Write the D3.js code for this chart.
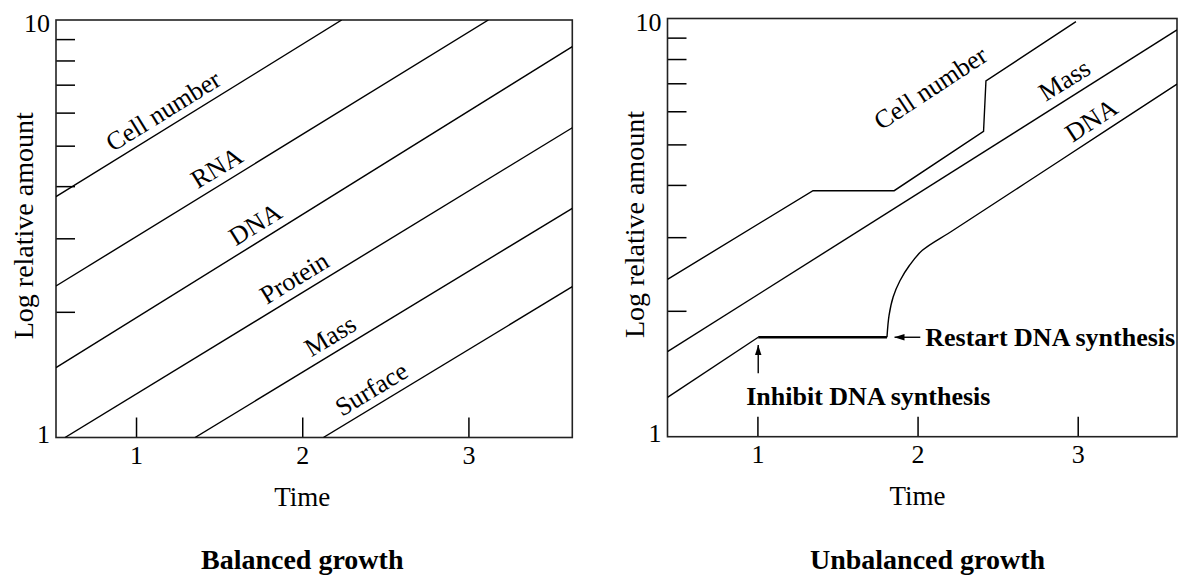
<!DOCTYPE html>
<html>
<head>
<meta charset="utf-8">
<script src="https://cdnjs.cloudflare.com/ajax/libs/d3/7.8.5/d3.min.js"></script>
<style>
  html, body { margin: 0; padding: 0; background: #fff; }
  svg { display: block; }
  text { font-family: "Liberation Serif", "Times New Roman", serif; fill: #000; }
</style>
</head>
<body>
<svg id="chart" width="1184" height="576"></svg>
<script>
// ---- axis ticks shared by both panels ----
const timeTicks = [1, 2, 3];
const minorAmountTicks = [2, 3, 4, 5, 6, 7, 8, 9];
const amountLabels = [1, 10];

// ---- balanced growth: [time, relative amount] ----
const balancedCellNumber = [[0.5185, 3.775], [2.2375, 10]];
const balancedRNA        = [[0.5185, 2.306], [3.12, 10]];
const balancedDNA        = [[0.5185, 1.470], [3.625, 8.63]];
const balancedProtein    = [[0.5726, 1], [3.625, 5.52]];
const balancedMass       = [[1.355, 1], [3.625, 3.54]];
const balancedSurface    = [[2.127, 1], [3.625, 2.297]];

const balancedNames  = ["Cell number", "RNA", "DNA", "Protein", "Mass", "Surface"];
const balancedLabelT = [1.216, 1.538, 1.770, 2.005, 2.221, 2.468];

// ---- unbalanced growth: [time, relative amount] ----
const unbalancedCellNumber = [[0.4385, 2.378], [1.347, 3.875], [1.854, 3.875],
                              [2.412, 5.375], [2.427, 7.09], [2.989, 9.825]];
const unbalancedMass       = [[0.4385, 1.597], [3.62, 9.39]];
const dnaBeforeBlock       = [[0.4385, 1.242], [1.005, 1.729]];
const dnaBlocked           = [[1.005, 1.729], [1.809, 1.729]];
const dnaRecovery          = [[1.809, 1.729], [1.822, 1.95], [1.848, 2.16], [1.890, 2.36],
                              [1.950, 2.57], [2.030, 2.79], [2.225, 3.121], [2.9, 4.60], [3.62, 6.97]];

const unbalancedNames  = ["Cell number", "Mass", "DNA"];
const unbalancedLabelT = [2.165, 2.976, 3.142];

// arrows: inhibit (vertical, at time of block) and restart (horizontal)
const inhibitArrow = [[1.005, 1.418], [1.005, 1.657]];
const restartArrow = [[2.017, 1.729], [1.856, 1.729]];

const svg = d3.select("#chart");
const FONT = '"Liberation Serif", "Times New Roman", serif';

svg.append("defs").append("marker")
  .attr("id", "head")
  .attr("viewBox", "0 -4 10 8")
  .attr("refX", 10).attr("refY", 0)
  .attr("markerUnits", "userSpaceOnUse")
  .attr("markerWidth", 10).attr("markerHeight", 8)
  .attr("orient", "auto")
  .append("path").attr("d", "M0,-3.2L10,0L0,3.2Z").attr("fill", "#000");

function makePanel(cfg) {
  const g = svg.append("g");
  const x = d3.scaleLinear().domain(cfg.timeDomain).range([cfg.left, cfg.right]);
  const y = d3.scaleLog().domain([1, 10]).range([cfg.bottom, cfg.top]);

  const clipId = "clip-" + cfg.id;
  svg.select("defs").append("clipPath").attr("id", clipId)
    .append("rect")
    .attr("x", cfg.left).attr("y", cfg.top)
    .attr("width", cfg.right - cfg.left).attr("height", cfg.bottom - cfg.top);

  // inner minor ticks on the log axis
  g.append("g")
    .attr("transform", `translate(${cfg.left},0)`)
    .call(d3.axisLeft(y).tickValues(minorAmountTicks).tickSizeInner(-19).tickSizeOuter(0).tickFormat(""))
    .call(a => a.select(".domain").remove())
    .call(a => a.selectAll("line").attr("stroke", "#000").attr("stroke-width", 1.5));

  // labelled ends of the log axis
  g.append("g")
    .attr("transform", `translate(${cfg.left},0)`)
    .call(d3.axisLeft(y).tickValues(amountLabels).tickSize(0).tickPadding(6).tickFormat(d3.format("d")))
    .call(a => a.select(".domain").remove())
    .call(a => a.attr("font-family", FONT).attr("font-size", 26))
    .call(a => a.selectAll("text").attr("dy", d => d === 10 ? "0.45em" : "0.18em"));

  // time axis
  g.append("g")
    .attr("transform", `translate(0,${cfg.bottom})`)
    .call(d3.axisBottom(x).tickValues(timeTicks).tickSizeInner(-20).tickSizeOuter(0).tickPadding(8).tickFormat(d3.format("d")))
    .call(a => a.select(".domain").remove())
    .call(a => a.attr("font-family", FONT).attr("font-size", 26))
    .call(a => a.selectAll("line").attr("stroke", "#000").attr("stroke-width", 1.5));

  // frame
  g.append("rect")
    .attr("x", cfg.left).attr("y", cfg.top)
    .attr("width", cfg.right - cfg.left).attr("height", cfg.bottom - cfg.top)
    .attr("fill", "none").attr("stroke", "#222").attr("stroke-width", 1.6);

  // axis titles
  g.append("text")
    .attr("transform", `translate(${cfg.yTitleX},${(cfg.top + cfg.bottom) / 2 - 3}) rotate(-90)`)
    .attr("text-anchor", "middle").attr("font-size", 28)
    .text("Log relative amount");
  g.append("text")
    .attr("x", x(2)).attr("y", cfg.bottom + 68)
    .attr("text-anchor", "middle").attr("font-size", 27)
    .text("Time");
  g.append("text")
    .attr("x", x(2) + cfg.titleShift).attr("y", 569)
    .attr("text-anchor", "middle").attr("font-size", 28).attr("font-weight", "bold")
    .text(cfg.title);

  const plot = g.append("g").attr("clip-path", `url(#${clipId})`);
  const line = d3.line().x(d => x(d[0])).y(d => y(d[1]));

  // point on a series at time t (optionally along a chosen segment, extended)
  function pointOn(series, t, seg) {
    let i = seg;
    if (i === undefined) {
      i = series.findIndex((p, k) => k < series.length - 1 && t >= p[0] && t <= series[k + 1][0]);
      if (i < 0) i = series.length - 2;
    }
    const [t0, v0] = series[i], [t1, v1] = series[i + 1];
    const f = (t - t0) / (t1 - t0);
    const lv = Math.log10(v0) + f * (Math.log10(v1) - Math.log10(v0));
    const ang = Math.atan2(y(v1) - y(v0), x(t1) - x(t0));
    return { px: x(t), py: y(Math.pow(10, lv)), ang };
  }

  function label(series, t, name, gap, seg) {
    const p = pointOn(series, t, seg);
    const nx = Math.sin(p.ang), ny = -Math.cos(p.ang);
    g.append("text")
      .attr("transform", `translate(${p.px + gap * nx},${p.py + gap * ny}) rotate(${p.ang * 180 / Math.PI})`)
      .attr("text-anchor", "middle").attr("font-size", 26)
      .text(name);
  }

  return { g, x, y, plot, line, label };
}

// ---------- Balanced growth ----------
const left = makePanel({
  id: "balanced", left: 56, right: 572.3, top: 20, bottom: 437.5,
  timeDomain: [0.5185, 3.625], yTitleX: 33, titleShift: 0, title: "Balanced growth"
});
const balancedSeries = [balancedCellNumber, balancedRNA, balancedDNA,
                        balancedProtein, balancedMass, balancedSurface];
left.plot.selectAll("path.series").data(balancedSeries).join("path")
  .attr("class", "series")
  .attr("d", left.line)
  .attr("fill", "none").attr("stroke", "#000").attr("stroke-width", 1.4);
balancedSeries.forEach((s, i) => left.label(s, balancedLabelT[i], balancedNames[i], 8));

// ---------- Unbalanced growth ----------
const right = makePanel({
  id: "unbalanced", left: 667.5, right: 1177, top: 18.5, bottom: 436.7,
  timeDomain: [0.4385, 3.62], yTitleX: 644, titleShift: 10, title: "Unbalanced growth"
});
right.plot.selectAll("path.series").data([unbalancedCellNumber, unbalancedMass, dnaBeforeBlock])
  .join("path").attr("class", "series")
  .attr("d", right.line)
  .attr("fill", "none").attr("stroke", "#000").attr("stroke-width", 1.4);
right.plot.append("path")
  .attr("d", right.line(dnaBlocked))
  .attr("fill", "none").attr("stroke", "#000").attr("stroke-width", 2.6);
right.plot.append("path")
  .attr("d", d3.line().x(d => right.x(d[0])).y(d => right.y(d[1])).curve(d3.curveCatmullRom.alpha(0.5))(dnaRecovery))
  .attr("fill", "none").attr("stroke", "#000").attr("stroke-width", 1.4);

right.label(unbalancedCellNumber, unbalancedLabelT[0], unbalancedNames[0], 16, unbalancedCellNumber.length - 2);
right.label(unbalancedMass, unbalancedLabelT[1], unbalancedNames[1], 9);
right.label(dnaRecovery, unbalancedLabelT[2], unbalancedNames[2], 8, dnaRecovery.length - 2);

// arrows and their notes
[inhibitArrow, restartArrow].forEach(a => {
  right.g.append("line")
    .attr("x1", right.x(a[0][0])).attr("y1", right.y(a[0][1]))
    .attr("x2", right.x(a[1][0])).attr("y2", right.y(a[1][1]))
    .attr("stroke", "#000").attr("stroke-width", 1.4)
    .attr("marker-end", "url(#head)");
});
right.g.append("text")
  .attr("x", right.x(inhibitArrow[0][0]) - 12).attr("y", right.y(inhibitArrow[0][1]) + 32)
  .attr("font-size", 26).attr("font-weight", "bold")
  .text("Inhibit DNA synthesis");
right.g.append("text")
  .attr("x", right.x(restartArrow[0][0]) + 5).attr("y", right.y(restartArrow[0][1]))
  .attr("dy", "0.35em")
  .attr("font-size", 26).attr("font-weight", "bold")
  .text("Restart DNA synthesis");
</script>
</body>
</html>
